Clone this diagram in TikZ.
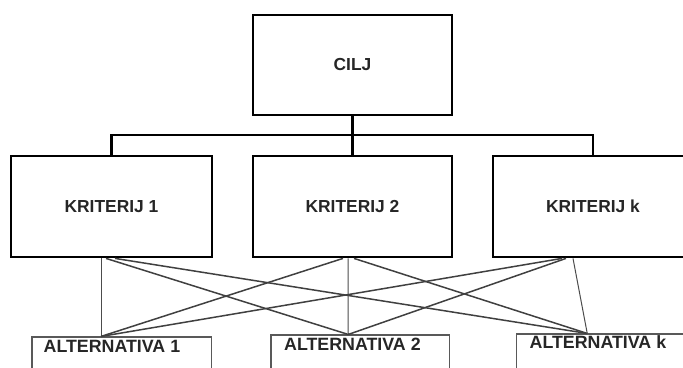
\documentclass[tikz,border=0pt]{standalone}
\usepackage{fontspec}
\setmainfont{Liberation Sans}
\begin{document}
\begin{tikzpicture}[x=1pt,y=-1pt,
  topbox/.style={draw=black, line width=2.8pt, rectangle, inner sep=0pt, font=\fontsize{17.4}{20}\selectfont\bfseries, text=black!85},
  altbox/.style={draw=black!65, line width=1.1pt, rectangle, inner sep=0pt, minimum height=60pt},
  alttext/.style={anchor=base west, inner sep=0pt, font=\fontsize{17.8}{20}\selectfont\bfseries, text=black!85},
  tree/.style={line width=2.6pt, draw=black},
  diag/.style={line width=1.5pt, draw=black!75},
  vert/.style={line width=1pt, draw=black!70}]
\useasboundingbox (0,0) rectangle (683,367);
\clip (0,0) rectangle (683,367);
% top
\node[topbox, minimum width=199pt, minimum height=100pt] (cilj) at (352.5,65) {CILJ};
% criteria
\node[topbox, minimum width=201pt, minimum height=101pt] (k1) at (111.5,206.5) {KRITERIJ 1};
\node[topbox, minimum width=199pt, minimum height=101pt] (k2) at (352.5,206.5) {KRITERIJ 2};
\node[topbox, minimum width=200pt, minimum height=101pt] (kk) at (593,206.5) {KRITERIJ k};
% alternatives
\node[altbox, minimum width=179.5pt] (a1) at (121.75,367) {};
\node[altbox, minimum width=178.5pt] (a2) at (360.25,365) {};
\node[altbox, minimum width=183.5pt] (ak) at (608.25,364) {};
\node[alttext] (a1t) at (43.5,352) {ALTERNATIVA 1};
\node[alttext] (a2t) at (284,350) {ALTERNATIVA 2};
\node[alttext] (akt) at (529.5,348) {ALTERNATIVA k};
% tree
\coordinate (j) at (352.5,135);
\draw[tree] (cilj.south) -- (j);
\draw[tree] (k1.north) |- (j) -| (kk.north);
\draw[tree] (j) -- (k2.north);
% from kriterij 1
\draw[vert] ([xshift=-10.5pt]k1.south) -- ([xshift=-20.75pt]a1.north);
\draw[diag] ([xshift=-5.5pt]k1.south) -- ([xshift=-12pt]a2.north);
\draw[diag] ([xshift=3.5pt]k1.south) -- ([xshift=-21pt]ak.north);
% from kriterij 2
\draw[diag] ([xshift=-9.5pt]k2.south) -- ([xshift=-20.75pt]a1.north);
\draw[vert] ([xshift=-4.5pt]k2.south) -- ([xshift=-12pt]a2.north);
\draw[diag] ([xshift=1.5pt]k2.south) -- ([xshift=-21pt]ak.north);
% from kriterij k
\draw[diag] ([xshift=-31pt]kk.south) -- ([xshift=-20.75pt]a1.north);
\draw[diag] ([xshift=-27pt]kk.south) -- ([xshift=-12pt]a2.north);
\draw[vert] ([xshift=-20pt]kk.south) -- ([xshift=-21pt]ak.north);
\end{tikzpicture}
\end{document}
